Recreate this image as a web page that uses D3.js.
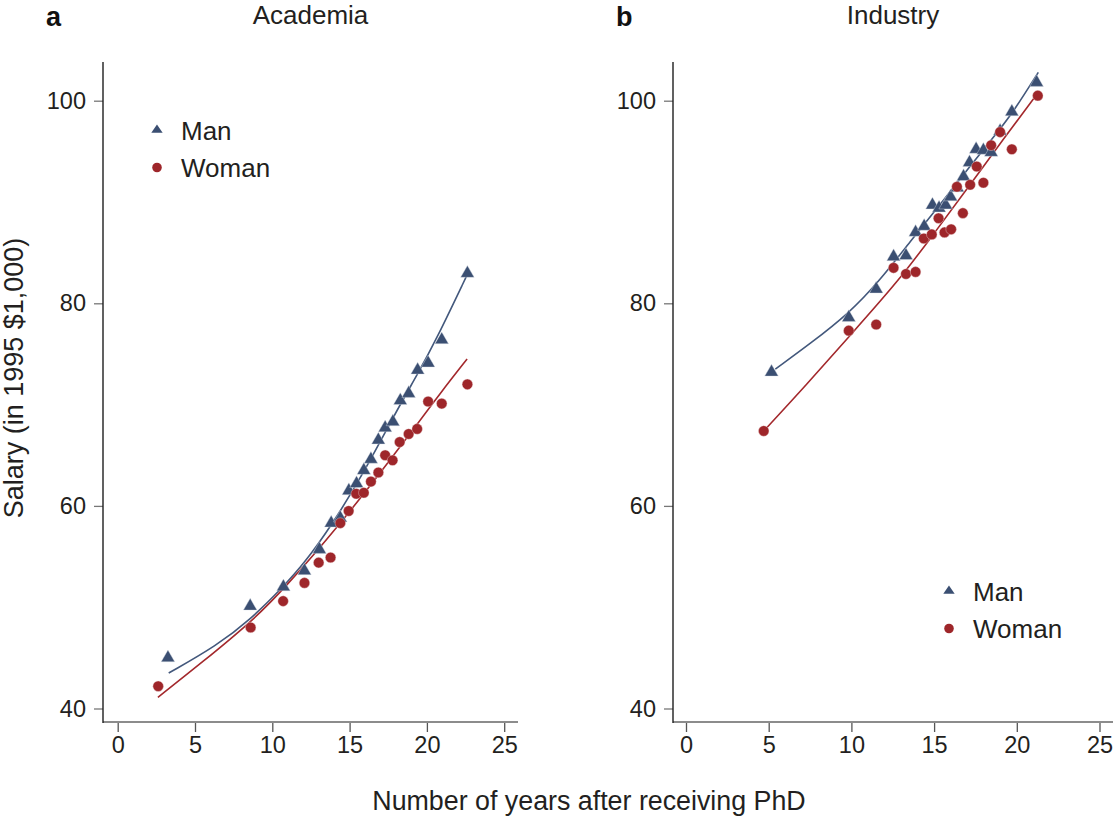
<!DOCTYPE html>
<html><head><meta charset="utf-8">
<script src="https://cdn.jsdelivr.net/npm/d3@7"></script>
<style>
html,body{margin:0;padding:0;background:#fff;}
svg{display:block;font-family:"Liberation Sans",Arial,Helvetica,sans-serif;}
</style></head><body>
<svg id="chart" width="1113" height="817"></svg>
<script>
// ---------- data ----------
const xTicks = [0, 5, 10, 15, 20, 25];
const yTicks = [40, 60, 80, 100];
const seriesNames = ["Man", "Woman"];
const panelTitles = ["Academia", "Industry"];
const panelLetters = ["a", "b"];
const xAxisTitle = "Number of years after receiving PhD";
const yAxisTitle = "Salary (in 1995 $1,000)";

// Academia
const acadManYears   = [3.25, 8.57, 10.72, 12.08, 13.05, 13.81, 14.4, 14.95, 15.45, 15.92, 16.38, 16.86, 17.3, 17.8, 18.28, 18.82, 19.4, 20.08, 20.96, 22.62];
const acadManSalary  = [45.0, 50.1, 52.0, 53.6, 55.7, 58.3, 58.8, 61.5, 62.2, 63.5, 64.6, 66.5, 67.7, 68.3, 70.4, 71.1, 73.4, 74.1, 76.4, 82.95];
const acadWomanYears = [2.62, 8.6, 10.7, 12.08, 13.0, 13.77, 14.4, 14.94, 15.43, 15.92, 16.38, 16.86, 17.3, 17.78, 18.24, 18.82, 19.37, 20.08, 20.96, 22.62];
const acadWomanSalary= [42.2, 48.0, 50.6, 52.4, 54.4, 54.9, 58.3, 59.5, 61.2, 61.3, 62.4, 63.3, 65.0, 64.5, 66.3, 67.1, 67.6, 70.3, 70.1, 72.0];
// fitted curves
const acadManFitYears    = [3.3, 6.4, 8.6, 10.7, 12.1, 13.8, 15.9, 18.0, 19.4, 20.6, 22.6];
const acadManFitSalary   = [43.5, 46.2, 48.8, 52.0, 54.4, 58.0, 63.2, 69.3, 73.0, 76.4, 82.8];
const acadWomanFitYears  = [2.6, 5.5, 8.6, 10.7, 14.4, 17.6, 19.3, 20.9, 22.6];
const acadWomanFitSalary = [41.1, 44.6, 48.5, 51.7, 58.2, 64.5, 67.9, 71.2, 74.5];

// Industry
const indManYears    = [5.17, 9.84, 11.5, 12.55, 13.3, 13.88, 14.4, 14.9, 15.3, 15.7, 16.0, 16.4, 16.78, 17.14, 17.54, 17.98, 18.45, 18.99, 19.7, 21.2];
const indManSalary   = [73.2, 78.6, 81.4, 84.6, 84.7, 87.0, 87.6, 89.7, 89.4, 89.7, 90.5, 91.4, 92.5, 93.9, 95.2, 95.1, 94.9, 97.0, 98.9, 101.8];
const indWomanYears  = [4.7, 9.84, 11.5, 12.55, 13.3, 13.88, 14.38, 14.86, 15.27, 15.63, 16.03, 16.38, 16.74, 17.18, 17.58, 17.98, 18.45, 18.99, 19.7, 21.27];
const indWomanSalary = [67.4, 77.3, 77.9, 83.5, 82.9, 83.1, 86.4, 86.8, 88.4, 87.0, 87.3, 91.5, 88.9, 91.7, 93.5, 91.9, 95.6, 96.9, 95.2, 100.5];
const indManFitYears    = [5.4, 7.5, 9.85, 11.7, 13.7, 15.4, 17.0, 18.6, 19.8, 21.3];
const indManFitSalary   = [73.5, 76.0, 79.0, 82.2, 86.4, 89.8, 93.2, 96.4, 98.9, 102.8];
const indWomanFitYears  = [4.7, 7.3, 9.85, 12.9, 14.95, 17.0, 19.0, 21.2];
const indWomanFitSalary = [67.4, 72.0, 76.7, 82.3, 86.8, 91.3, 95.8, 100.6];

// ---------- build ----------
const zip = (a, b) => a.map((v, i) => [v, b[i]]);
const panels = [
  { title: panelTitles[0], letter: panelLetters[0],
    man: zip(acadManYears, acadManSalary), woman: zip(acadWomanYears, acadWomanSalary),
    manFit: zip(acadManFitYears, acadManFitSalary), womanFit: zip(acadWomanFitYears, acadWomanFitSalary),
    axisX: 103, axisRight: 518, r0: 117.7, r1: 504.2, legX: 157, legY: 130, letterX: 46 },
  { title: panelTitles[1], letter: panelLetters[1],
    man: zip(indManYears, indManSalary), woman: zip(indWomanYears, indWomanSalary),
    manFit: zip(indManFitYears, indManFitSalary), womanFit: zip(indWomanFitYears, indWomanFitSalary),
    axisX: 673, axisRight: 1113, r0: 686, r1: 1099.5, legX: 949, legY: 591, letterX: 616 }
];

const BLUE = "#3b4f72", RED = "#9e262a";
const BLUE_LINE = "#43587c", RED_LINE = "#a3282c";
const TEXT = "#231f20";
const axisTop = 62, axisBottom = 722;

const svg = d3.select("#chart");
const yScale = d3.scaleLinear().domain([40, 100]).range([708.5, 100.7]);

panels.forEach(p => {
  const x = d3.scaleLinear().domain([0, 25]).range([p.r0, p.r1]);
  const g = svg.append("g");

  // y ticks
  const yAx = g.append("g").attr("transform", `translate(${p.axisX},0)`)
    .call(d3.axisLeft(yScale).tickValues(yTicks).tickSize(9).tickPadding(8));
  yAx.select(".domain").remove();
  yAx.selectAll(".tick line").attr("stroke", "#777").attr("stroke-width", 1.3);
  yAx.selectAll(".tick text").attr("fill", TEXT).style("font-size", "23.5px").style("font-family", "'Liberation Sans',Arial,sans-serif");

  // x ticks
  const xAx = g.append("g").attr("transform", `translate(0,${axisBottom})`)
    .call(d3.axisBottom(x).tickValues(xTicks).tickSize(10).tickPadding(4));
  xAx.select(".domain").remove();
  xAx.selectAll(".tick line").attr("stroke", "#555").attr("stroke-width", 1.3);
  xAx.selectAll(".tick text").attr("fill", TEXT).style("font-size", "23.5px").style("font-family", "'Liberation Sans',Arial,sans-serif");

  // axis lines
  g.append("line").attr("x1", p.axisX).attr("x2", p.axisRight).attr("y1", axisBottom).attr("y2", axisBottom)
    .attr("stroke", "#8c8c8c").attr("stroke-width", 2.2);
  g.append("line").attr("x1", p.axisX).attr("x2", p.axisX).attr("y1", axisTop).attr("y2", axisBottom + 1)
    .attr("stroke", "#1e1e1e").attr("stroke-width", 1.4);

  // fitted lines
  const line = d3.line().x(d => x(d[0])).y(d => yScale(d[1])).curve(d3.curveBasis);
  g.append("path").attr("d", line(p.manFit)).attr("fill", "none").attr("stroke", BLUE_LINE).attr("stroke-width", 1.6);
  g.append("path").attr("d", line(p.womanFit)).attr("fill", "none").attr("stroke", RED_LINE).attr("stroke-width", 1.6);

  // markers
  const tri = d3.symbol(d3.symbolTriangle, 80)();
  const circ = d3.symbol(d3.symbolCircle, 88)();
  g.selectAll(".man").data(p.man).join("path").attr("class", "man")
    .attr("d", tri).attr("transform", d => `translate(${x(d[0])},${yScale(d[1])})`)
    .attr("fill", BLUE).attr("stroke", "#dfe4ec").attr("stroke-width", 0.4);
  g.selectAll(".woman").data(p.woman).join("path").attr("class", "woman")
    .attr("d", circ).attr("transform", d => `translate(${x(d[0])},${yScale(d[1])})`)
    .attr("fill", RED).attr("stroke", "#f0dcdc").attr("stroke-width", 0.4);

  // legend
  const leg = g.append("g");
  leg.append("path").attr("d", d3.symbol(d3.symbolTriangle, 56)()).attr("transform", `translate(${p.legX},${p.legY}) scale(1,0.85)`).attr("fill", BLUE);
  leg.append("path").attr("d", d3.symbol(d3.symbolCircle, 72)()).attr("transform", `translate(${p.legX},${p.legY + 37.5})`).attr("fill", RED);
  leg.append("text").attr("x", p.legX + 24).attr("y", p.legY + 9.5).attr("fill", TEXT).style("font-size", "26px").text(seriesNames[0]);
  leg.append("text").attr("x", p.legX + 24).attr("y", p.legY + 47).attr("fill", TEXT).style("font-size", "26px").text(seriesNames[1]);

  // title
  g.append("text").attr("x", (p.axisX + p.axisRight) / 2).attr("y", 24).attr("text-anchor", "middle")
    .attr("fill", TEXT).style("font-size", "26px").text(p.title);
  g.append("text").attr("x", p.letterX).attr("y", 26).attr("fill", "#111")
    .style("font-size", "27px").style("font-weight", "bold").text(p.letter);
});

// axis titles
svg.append("text").attr("x", 589).attr("y", 810).attr("text-anchor", "middle").attr("fill", TEXT)
  .style("font-size", "26.8px").text(xAxisTitle);
svg.append("text").attr("transform", "translate(23,378) rotate(-90)").attr("text-anchor", "middle").attr("fill", TEXT)
  .style("font-size", "27px").text(yAxisTitle);
</script>
</body></html>
